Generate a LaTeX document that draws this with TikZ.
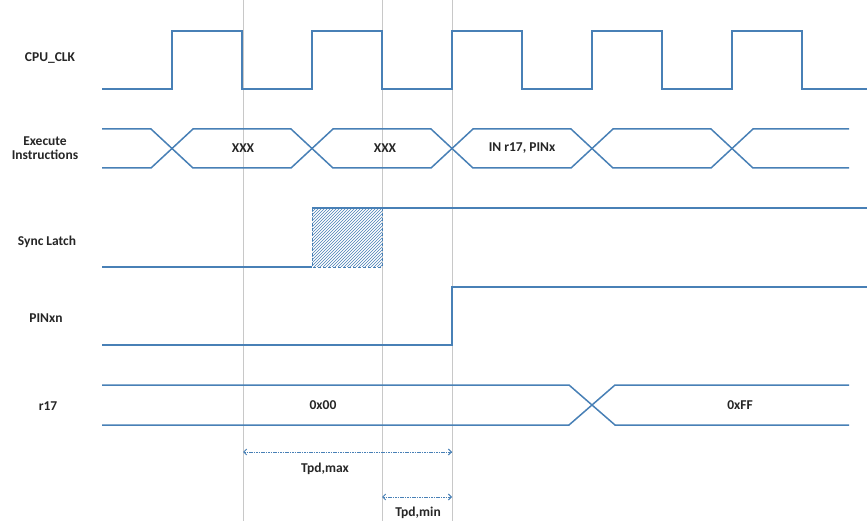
\documentclass[tikz,border=0pt]{standalone}
\usepackage{fontspec}
\setmainfont{Carlito}
\usetikzlibrary{patterns,arrows.meta}
\definecolor{sigc}{RGB}{72,128,182}
\definecolor{gridc}{RGB}{200,200,200}
\begin{document}
\begin{tikzpicture}[x=1pt,y=-1pt,
  sig/.style={draw=sigc, line width=1.5pt, line join=miter},
  gridline/.style={draw=gridc, line width=0.7pt},
  lbl/.style={font=\bfseries\fontsize{13.5}{14}\selectfont, text=black!85, align=center, inner sep=0pt},
  val/.style={font=\bfseries\fontsize{13.5}{14}\selectfont, text=black!85, inner sep=0pt},
  dim/.style={draw=sigc, line width=1pt, dash pattern=on 1.6pt off 0.8pt, {Straight Barb[length=3pt,width=6pt]}-{Straight Barb[length=3pt,width=6pt]}}]
\useasboundingbox (0,0) rectangle (867,521);
\fill[white] (0,0) rectangle (867,521);
% grid lines
\draw[gridline] (243,0) -- (243,521);
\draw[gridline] (382,0) -- (382,521);
\draw[gridline] (452,0) -- (452,521);
% labels
\node[lbl] (lclk) at (50,58) {CPU\_CLK};
\node[lbl] (lexe) at (45,148) {Execute\\Instructions};
\node[lbl] (lsync) at (47,242) {Sync Latch};
\node[lbl] (lpin) at (46,318) {PINxn};
\node[lbl] (lr17) at (48,406) {r17};
% CPU clock
\draw[sig] (102,89) -- (172,89) -- (172,31) -- (242,31) -- (242,89)
  -- (312,89) -- (312,31) -- (382,31) -- (382,89)
  -- (452,89) -- (452,31) -- (522,31) -- (522,89)
  -- (592,89) -- (592,31) -- (662,31) -- (662,89)
  -- (732,89) -- (732,31) -- (802,31) -- (802,89) -- (867,89);
% Execute instructions bus
\draw[sig] (102,129) -- (151,129) -- (193,168) -- (291,168) -- (333,129) -- (431,129)
  -- (473,168) -- (571,168) -- (613,129) -- (711,129) -- (753,168) -- (849,168);
\draw[sig] (102,168) -- (151,168) -- (193,129) -- (291,129) -- (333,168) -- (431,168)
  -- (473,129) -- (571,129) -- (613,168) -- (711,168) -- (753,129) -- (849,129);
\node[val] (x1) at (243,148) {XXX};
\node[val] (x2) at (385,148) {XXX};
\node[val] (x3) at (522,148) {IN r17, PINx};
% Sync latch
\fill[pattern=north east lines, pattern color=sigc] (312,208) rectangle (382,267);
\draw[sigc, line width=0.6pt, densely dashed] (312,208) rectangle (382,267);
\draw[sig] (102,267) -- (312,267);
\draw[sig] (312,208) -- (867,208);
% PINxn
\draw[sig] (102,345) -- (452,345) -- (452,287) -- (867,287);
% r17 bus
\draw[sig] (102,385) -- (569,385) -- (615,425) -- (849,425);
\draw[sig] (102,425) -- (569,425) -- (615,385) -- (849,385);
\node[val] (v0) at (323,405) {0x00};
\node[val] (vf) at (740,405) {0xFF};
% timing dimensions
\coordinate (amax1) at (243,452);
\coordinate (amax2) at (452,452);
\draw[dim] (amax1) -- (amax2);
\node[val] (tmax) at (325,469) {Tpd,max};
\coordinate (amin1) at (382,497);
\coordinate (amin2) at (452,497);
\draw[dim] (amin1) -- (amin2);
\node[val] (tmin) at (418,513) {Tpd,min};
\end{tikzpicture}
\end{document}
